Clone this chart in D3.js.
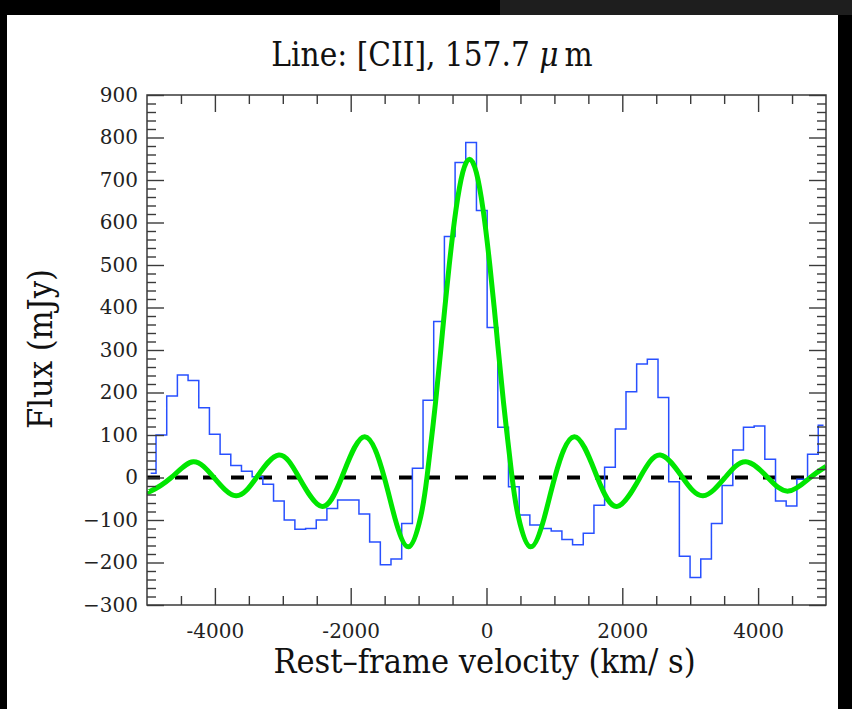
<!DOCTYPE html>
<html>
<head>
<meta charset="utf-8">
<script src="https://cdn.jsdelivr.net/npm/d3@7"></script>
<style>
  html, body { margin: 0; padding: 0; background: #000; }
  svg { display: block; font-family: "DejaVu Serif", serif; }
</style>
</head>
<body>
<script>
// channel centres (km/s) and observed flux (mJy)
const velocity = [
    -4946, -4788, -4631, -4474, -4316, -4159, -4002, -3845, -3687, -3530,
    -3373, -3215, -3058, -2901, -2743, -2586, -2429, -2272, -2114, -1957,
    -1800, -1642, -1485, -1328, -1170, -1013, -856, -699, -541, -384,
    -227, -69, 88, 245, 403, 560, 717, 874, 1032, 1189,
    1346, 1504, 1661, 1818, 1976, 2133, 2290, 2447, 2605, 2762,
    2919, 3077, 3234, 3391, 3549, 3706, 3863, 4020, 4178, 4335,
    4492, 4650, 4807, 4964
];
const flux = [
    10, 100, 192, 241, 228, 164, 102, 55, 28, 15,
    2, -16, -55, -100, -122, -120, -100, -73, -53, -53,
    -86, -152, -205, -192, -108, 22, 182, 367, 567, 741,
    788, 628, 353, 118, -22, -88, -112, -120, -126, -146,
    -158, -131, -65, 24, 114, 202, 267, 278, 188, -10,
    -185, -235, -192, -108, -19, 65, 118, 121, 43, -55,
    -67, -4, 55, 123
];

// fitted line profile, read at its peaks, troughs and zero crossings
const fitVelocity = [
    -5000, -4947, -4642, -4318, -4014, -3689, -3387, -3059, -2760, -2428,
    -2132, -1793, -1505, -1348, -1147, -969, -877, -749, -649, -550,
    -450, -350, -250, -150, -50, 50, 149, 249, 377, 469,
    647, 848, 1005, 1293, 1632, 1928, 2260, 2559, 2887, 3189,
    3514, 3818, 4142, 4447, 4769, 5000
];
const fitFlux = [
    -31, -32, 0, 37, 0, -43, 0, 53, 0, -68,
    0, 96, 0, -96, -163, -92, 0, 179, 341, 498,
    630, 718, 749, 718, 630, 498, 341, 179, 0, -92,
    -163, -96, 0, 96, 0, -68, 0, 53, 0, -43,
    0, 37, 0, -32, 0, 26
];

const xMajorTicks = [-4000, -2000, 0, 2000, 4000];
const yMajorTicks = [-300, -200, -100, 0, 100, 200, 300, 400, 500, 600, 700, 800, 900];

const titleText = "Line: [CII], 157.7 ";
const xTitle = "Rest\u2013frame velocity (km/ s)";
const yTitle = "Flux (mJy)";

const W = 852, H = 709;
const plot = { left: 147, right: 826, top: 95, bottom: 605 };
const axisColor = "#3a3a3a";

const svg = d3.select("body").append("svg")
    .attr("width", W)
    .attr("height", H);

// screenshot frame
svg.append("rect")
    .attr("x", 0).attr("y", 0).attr("width", W).attr("height", H)
    .attr("fill", "#000");
svg.append("rect")
    .attr("x", 500).attr("y", 0).attr("width", W - 500).attr("height", 15)
    .attr("fill", "#1e1e1e");
svg.append("rect")
    .attr("x", 7).attr("y", 15).attr("width", 831).attr("height", H - 15)
    .attr("fill", "#fff");

const xScale = d3.scaleLinear().domain([-5000, 5000]).range([plot.left, plot.right]);
const yScale = d3.scaleLinear().domain([-300, 900]).range([plot.bottom, plot.top]);

const xMinor = d3.range(-4500, 5000, 500).filter(v => v % 2000 !== 0);
const yMinor = d3.range(-280, 900, 20).filter(v => v % 100 !== 0);

svg.append("clipPath").attr("id", "clip")
    .append("rect")
    .attr("x", plot.left).attr("y", plot.top)
    .attr("width", plot.right - plot.left).attr("height", plot.bottom - plot.top);

const chart = svg.append("g").attr("clip-path", "url(#clip)");

// zero level
chart.append("line")
    .attr("x1", xScale(-5000)).attr("x2", xScale(5000))
    .attr("y1", yScale(0)).attr("y2", yScale(0))
    .attr("stroke", "#000")
    .attr("stroke-width", 4)
    .attr("stroke-dasharray", "13,15");

// observed spectrum
const stepLine = d3.line()
    .x((d, i) => xScale(velocity[i]))
    .y(d => yScale(d))
    .curve(d3.curveStep);
chart.append("path")
    .datum(flux)
    .attr("d", stepLine)
    .attr("fill", "none")
    .attr("stroke", "#2850ff")
    .attr("stroke-width", 1.5);

// fit
const fitLine = d3.line()
    .x((d, i) => xScale(fitVelocity[i]))
    .y(d => yScale(d))
    .curve(d3.curveNatural);
chart.append("path")
    .datum(fitFlux)
    .attr("d", fitLine)
    .attr("fill", "none")
    .attr("stroke", "#00e600")
    .attr("stroke-width", 5)
    .attr("stroke-linejoin", "round");

// axes: ticks point inward on all four sides
const styleAxis = (g) => {
    g.select(".domain").remove();
    g.selectAll(".tick line").attr("stroke", axisColor).attr("stroke-width", 1.4);
    g.selectAll(".tick text")
        .attr("fill", "#222")
        .style("font-family", "DejaVu Serif")
        .style("font-size", "20px");
};

const addAxis = (axis, tx, ty) => {
    svg.append("g")
        .attr("transform", `translate(${tx},${ty})`)
        .call(axis)
        .call(styleAxis);
};

addAxis(d3.axisBottom(xScale).tickValues(xMajorTicks).tickSize(-17).tickPadding(19)
    .tickFormat(d => String(d)), 0, plot.bottom);
addAxis(d3.axisBottom(xScale).tickValues(xMinor).tickSize(-9).tickFormat(""), 0, plot.bottom);
addAxis(d3.axisTop(xScale).tickValues(xMajorTicks).tickSize(-17).tickFormat(""), 0, plot.top);
addAxis(d3.axisTop(xScale).tickValues(xMinor).tickSize(-9).tickFormat(""), 0, plot.top);

addAxis(d3.axisLeft(yScale).tickValues(yMajorTicks).tickSize(-17).tickPadding(9)
    .tickFormat(d => d < 0 ? "\u2212" + Math.abs(d) : String(d)), plot.left, 0);
addAxis(d3.axisLeft(yScale).tickValues(yMinor).tickSize(-9).tickFormat(""), plot.left, 0);
addAxis(d3.axisRight(yScale).tickValues(yMajorTicks).tickSize(-17).tickFormat(""), plot.right, 0);
addAxis(d3.axisRight(yScale).tickValues(yMinor).tickSize(-9).tickFormat(""), plot.right, 0);

// frame
svg.append("rect")
    .attr("x", plot.left).attr("y", plot.top)
    .attr("width", plot.right - plot.left).attr("height", plot.bottom - plot.top)
    .attr("fill", "none")
    .attr("stroke", axisColor)
    .attr("stroke-width", 1.5);

// titles
const title = svg.append("text")
    .attr("x", 432).attr("y", 66)
    .attr("text-anchor", "middle")
    .attr("fill", "#111")
    .style("font-family", "DejaVu Serif Condensed")
    .style("font-size", "33px")
    .text(titleText);
title.append("tspan").style("font-style", "italic").text("\u03bc");
title.append("tspan").attr("dx", 6).text("m");

svg.append("text")
    .attr("x", (plot.left + plot.right) / 2 - 2).attr("y", 673)
    .attr("text-anchor", "middle")
    .attr("fill", "#111")
    .style("font-family", "DejaVu Serif Condensed")
    .style("font-size", "34px")
    .text(xTitle);

svg.append("text")
    .attr("transform", `translate(52,349) rotate(-90)`)
    .attr("text-anchor", "middle")
    .attr("fill", "#111")
    .style("font-family", "DejaVu Serif Condensed")
    .style("font-size", "34px")
    .text(yTitle);
</script>
</body>
</html>
